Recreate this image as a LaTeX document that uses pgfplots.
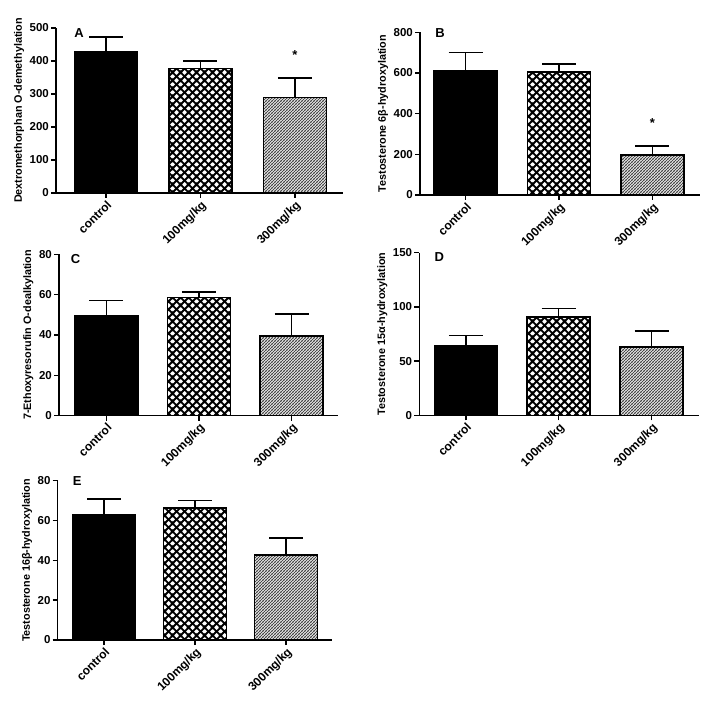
\documentclass[border=0pt]{standalone}
\usepackage{fontspec}
\setmainfont{Liberation Sans}
\usepackage{pgfplots}
\pgfplotsset{compat=1.18}
\usetikzlibrary{patterns}

\pgfdeclarepatternformonly{diamondhatch}{\pgfqpoint{0pt}{0pt}}{\pgfqpoint{7.5pt}{7.5pt}}{\pgfqpoint{7.5pt}{7.5pt}}{
  \pgfsetlinewidth{1.9pt}
  \pgfpathmoveto{\pgfqpoint{-1pt}{-1pt}}\pgfpathlineto{\pgfqpoint{8.5pt}{8.5pt}}
  \pgfpathmoveto{\pgfqpoint{6.5pt}{-1pt}}\pgfpathlineto{\pgfqpoint{9pt}{1.5pt}}
  \pgfpathmoveto{\pgfqpoint{-1.5pt}{6pt}}\pgfpathlineto{\pgfqpoint{1pt}{8.5pt}}
  \pgfpathmoveto{\pgfqpoint{-1pt}{8.5pt}}\pgfpathlineto{\pgfqpoint{8.5pt}{-1pt}}
  \pgfpathmoveto{\pgfqpoint{-1pt}{1pt}}\pgfpathlineto{\pgfqpoint{1pt}{-1pt}}
  \pgfpathmoveto{\pgfqpoint{6.5pt}{8.5pt}}\pgfpathlineto{\pgfqpoint{8.5pt}{6.5pt}}
  \pgfusepath{stroke}
}
\pgfdeclarepatternformonly{densehatch}{\pgfqpoint{0pt}{0pt}}{\pgfqpoint{3.3pt}{3.3pt}}{\pgfqpoint{3.3pt}{3.3pt}}{
  \pgfsetlinewidth{1.1pt}
  \pgfpathmoveto{\pgfqpoint{-1pt}{-1pt}}\pgfpathlineto{\pgfqpoint{4.3pt}{4.3pt}}
  \pgfpathmoveto{\pgfqpoint{2.3pt}{-1pt}}\pgfpathlineto{\pgfqpoint{4.3pt}{1pt}}
  \pgfpathmoveto{\pgfqpoint{-1pt}{2.3pt}}\pgfpathlineto{\pgfqpoint{1pt}{4.3pt}}
  \pgfusepath{stroke}
}

\pgfplotsset{
  panel/.style={
    scale only axis,
    axis lines=left,
    axis line style={-, line width=1.5pt, black},
    enlargelimits=false,
    ymin=0,
    xtick={0,1,2},
    xticklabels={control,100mg/kg,300mg/kg},
    xticklabel style={rotate=45, anchor=north east, inner sep=1pt, font=\fontsize{12}{13}\selectfont\bfseries},
    yticklabel style={font=\fontsize{11.5}{12}\selectfont\bfseries, inner sep=2pt},
    tick align=outside,
    major tick length=5pt,
    tick style={line width=1.5pt, black},
    ylabel style={font=\fontsize{10.8}{12}\selectfont\bfseries},
    /pgf/number format/assume math mode=true,
    clip=false,
  },
  errs/.style={error bars/.cd, y dir=plus, y explicit,
    error bar style={line width=1.5pt, black},
    error mark options={rotate=90, mark size=17pt, line width=1.5pt, black}},
  ctrl/.style={ybar, bar width=63pt, bar shift=0pt, fill=black, draw=black, line width=1.5pt, errs},
  mid/.style={ybar, bar width=63pt, bar shift=0pt, pattern=diamondhatch, pattern color=black, draw=black, line width=1.5pt, errs},
  high/.style={ybar, bar width=63pt, bar shift=0pt, pattern=densehatch, pattern color=black!72, draw=black, line width=1.5pt, errs},
}

\begin{document}
\begin{tikzpicture}
\useasboundingbox (0,0) rectangle (709pt,702pt);

% Panel A
\begin{axis}[panel, at={(56pt,509pt)}, anchor=south west,
  width=287pt, height=165pt, xmin=-0.53, xmax=2.51, ymax=500,
  ytick={0,100,200,300,400,500},
  ylabel={Dextromethorphan O-demethylation}]
\addplot[ctrl] coordinates {(0,428) +- (0,45)};
\addplot[mid] coordinates {(1,378) +- (0,22)};
\addplot[high] coordinates {(2,290) +- (0,58)};
\node[anchor=north, inner sep=0pt, font=\fontsize{13}{13}\selectfont\bfseries] at (axis cs:2,432) {*};
\node[anchor=north west, inner sep=0pt, font=\fontsize{13}{13}\selectfont\bfseries] at (rel axis cs:0.063,1.0) {A};
\end{axis}

% Panel B
\begin{axis}[panel, at={(420pt,507pt)}, anchor=south west,
  width=280pt, height=162.7pt, xmin=-0.49, xmax=2.51, ymax=800,
  ytick={0,200,400,600,800},
  ylabel={Testosterone 6β-hydroxylation}]
\addplot[ctrl] coordinates {(0,611) +- (0,89)};
\addplot[mid] coordinates {(1,605) +- (0,39)};
\addplot[high] coordinates {(2,197) +- (0,44)};
\node[anchor=north, inner sep=0pt, font=\fontsize{13}{13}\selectfont\bfseries] at (axis cs:2,378) {*};
\node[anchor=north west, inner sep=0pt, font=\fontsize{13}{13}\selectfont\bfseries] at (rel axis cs:0.054,1.025) {B};
\end{axis}

% Panel C
\begin{axis}[panel, at={(59pt,286.3pt)}, anchor=south west,
  width=279pt, height=161.4pt, xmin=-0.51, xmax=2.50, ymax=80,
  ytick={0,20,40,60,80},
  ylabel={7-Ethoxyresorufin O-dealkylation}]
\addplot[ctrl] coordinates {(0,49.6) +- (0,7.4)};
\addplot[mid] coordinates {(1,58.7) +- (0,2.6)};
\addplot[high] coordinates {(2,39.5) +- (0,10.8)};
\node[anchor=north west, inner sep=0pt, font=\fontsize{13}{13}\selectfont\bfseries] at (rel axis cs:0.042,1.0) {C};
\end{axis}

% Panel D
\begin{axis}[panel, at={(419.3pt,286.7pt)}, anchor=south west,
  width=279.7pt, height=162.6pt, xmin=-0.50, xmax=2.51, ymax=150,
  ytick={0,50,100,150},
  ylabel={Testosterone 15α-hydroxylation}]
\addplot[ctrl] coordinates {(0,64.2) +- (0,9.2)};
\addplot[mid] coordinates {(1,90.9) +- (0,7.4)};
\addplot[high] coordinates {(2,63) +- (0,14.7)};
\node[anchor=north west, inner sep=0pt, font=\fontsize{13}{13}\selectfont\bfseries] at (rel axis cs:0.054,1.0) {D};
\end{axis}

% Panel E
\begin{axis}[panel, at={(57.7pt,62pt)}, anchor=south west,
  width=274pt, height=159.3pt, xmin=-0.51, xmax=2.50, ymax=80,
  ytick={0,20,40,60,80},
  ylabel={Testosterone 16β-hydroxylation}]
\addplot[ctrl] coordinates {(0,63.1) +- (0,7.7)};
\addplot[mid] coordinates {(1,66.4) +- (0,3.6)};
\addplot[high] coordinates {(2,42.7) +- (0,8.5)};
\node[anchor=north west, inner sep=0pt, font=\fontsize{13}{13}\selectfont\bfseries] at (rel axis cs:0.055,1.025) {E};
\end{axis}
\end{tikzpicture}
\end{document}
